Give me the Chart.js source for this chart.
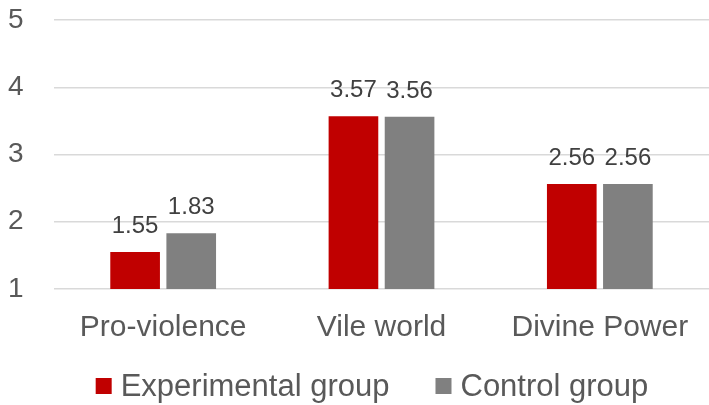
<!DOCTYPE html>
<html>
<head>
<meta charset="utf-8">
<script src="https://cdn.jsdelivr.net/npm/chart.js@4/dist/chart.umd.min.js"></script>
<style>
  html, body { margin: 0; padding: 0; background: #fff; }
  #wrap { width: 709px; height: 405px; }
</style>
</head>
<body>
<div id="wrap"><canvas id="chart"></canvas></div>
<script>
var categories = ['Pro-violence', 'Vile world', 'Divine Power'];
var experimental = [1.55, 3.57, 2.56];
var control = [1.83, 3.56, 2.56];
var yTicks = [1, 2, 3, 4, 5];

var FONT = '"Liberation Sans", Arial, sans-serif';

// draws the value above each bar
var barLabels = {
  id: 'barLabels',
  afterDatasetsDraw: function (chart) {
    var ctx = chart.ctx;
    ctx.save();
    ctx.font = '24px ' + FONT;
    ctx.fillStyle = '#404040';
    ctx.textAlign = 'center';
    ctx.textBaseline = 'alphabetic';
    chart.data.datasets.forEach(function (ds, i) {
      chart.getDatasetMeta(i).data.forEach(function (bar, j) {
        ctx.fillText(ds.data[j].toFixed(2), bar.x, bar.y - 19);
      });
    });
    ctx.restore();
  }
};

// legend under the axis, Excel style (small square, tight gap)
var bottomLegend = {
  id: 'bottomLegend',
  afterDraw: function (chart) {
    var ctx = chart.ctx;
    var box = 16, gap = 9, itemGap = 46;
    var baseline = 396;
    ctx.save();
    ctx.font = '31px ' + FONT;
    ctx.textBaseline = 'alphabetic';
    ctx.textAlign = 'left';
    var items = chart.data.datasets.map(function (ds) {
      return { text: ds.label, color: ds.backgroundColor, w: ctx.measureText(ds.label).width };
    });
    var total = 0;
    items.forEach(function (it, i) {
      total += box + gap + it.w + (i > 0 ? itemGap : 0);
    });
    var x = 372 - total / 2;
    items.forEach(function (it) {
      ctx.fillStyle = it.color;
      ctx.fillRect(x, baseline - 18, box, box);
      ctx.fillStyle = '#595959';
      ctx.fillText(it.text, x + box + gap, baseline);
      x += box + gap + it.w + itemGap;
    });
    ctx.restore();
  }
};

new Chart(document.getElementById('chart'), {
  type: 'bar',
  data: {
    labels: categories,
    datasets: [
      {
        label: 'Experimental group',
        data: experimental,
        backgroundColor: '#c00000',
        categoryPercentage: 0.514,
        barPercentage: 0.885
      },
      {
        label: 'Control group',
        data: control,
        backgroundColor: '#808080',
        categoryPercentage: 0.514,
        barPercentage: 0.885
      }
    ]
  },
  options: {
    responsive: true,
    maintainAspectRatio: false,
    animation: false,
    layout: { padding: { top: 20, left: 8, right: -6, bottom: 46 } },
    plugins: {
      tooltip: { enabled: false },
      legend: { display: false }
    },
    scales: {
      x: {
        grid: { display: false },
        border: { display: false },
        ticks: {
          font: { family: FONT, size: 30 },
          color: '#595959',
          padding: 13
        }
      },
      y: {
        min: 1,
        max: 5,
        afterBuildTicks: function (axis) {
          axis.ticks = yTicks.map(function (v) { return { value: v }; });
        },
        afterFit: function (axis) {
          axis.width = 46;
        },
        grid: { color: '#d9d9d9', lineWidth: 1.5, drawTicks: false },
        border: { display: false },
        ticks: {
          font: { family: FONT, size: 28 },
          color: '#595959',
          padding: 0,
          crossAlign: 'far'
        }
      }
    }
  },
  plugins: [barLabels, bottomLegend]
});
</script>
</body>
</html>
